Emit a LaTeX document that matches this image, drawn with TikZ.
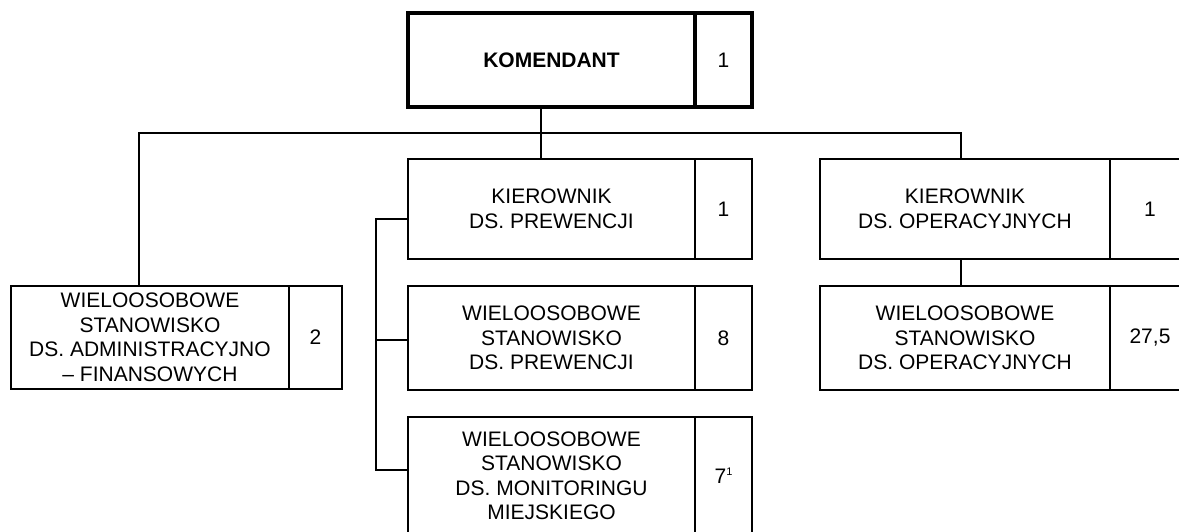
\documentclass[tikz,border=0pt]{standalone}
\usepackage{fontspec}
\setmainfont{Liberation Sans}
\usetikzlibrary{positioning}
\tikzset{
  post/.style={draw, line width=1.8pt, rectangle, align=center, inner sep=0pt, outer sep=0pt,
    anchor=north west, font=\fontsize{21}{24.5}\selectfont},
  count/.style={post, anchor=west, right=0pt of #1},
  chief/.style={line width=3.5pt},
  link/.style={line width=1.8pt}
}
\newcommand{\notemark}[1]{\raisebox{8pt}{\fontsize{11}{11}\selectfont #1}}
\begin{document}
\begin{tikzpicture}[x=1pt, y=-1pt]
      \useasboundingbox (0,0) rectangle (1179,532);
      \clip (0,0) rectangle (1179,532);
      \node[post, chief, minimum width=287pt, minimum height=94pt] (kom) at (408,13) {\textbf{KOMENDANT}};
      \node[count=kom, chief, minimum width=57pt, minimum height=94pt] (komn) {1};
      \node[post, minimum width=278pt, minimum height=103pt] (afin) at (11,286)
        {WIELOOSOBOWE\\STANOWISKO\\DS. ADMINISTRACYJNO\\– FINANSOWYCH};
      \node[count=afin, minimum width=53pt, minimum height=103pt] (afinn) {2};
      \node[post, minimum width=287pt, minimum height=100pt] (kp) at (408,159)
        {KIEROWNIK\\DS. PREWENCJI};
      \node[count=kp, minimum width=57pt, minimum height=100pt] (kpn) {1};
      \node[post, minimum width=287pt, minimum height=104pt] (wp) at (408,286)
        {WIELOOSOBOWE\\STANOWISKO\\DS. PREWENCJI};
      \node[count=wp, minimum width=57pt, minimum height=104pt] (wpn) {8};
      \node[post, minimum width=287pt, minimum height=118pt] (wm) at (408,417)
        {WIELOOSOBOWE\\STANOWISKO\\DS. MONITORINGU\\MIEJSKIEGO};
      \node[count=wm, minimum width=57pt, minimum height=118pt] (wmn) {7\notemark{1}};
      \node[post, minimum width=290pt, minimum height=100pt] (kop) at (820,159)
        {KIEROWNIK\\DS. OPERACYJNYCH};
      \node[count=kop, minimum width=80pt, minimum height=100pt] (kopn) {1};
      \node[post, minimum width=290pt, minimum height=104pt] (wop) at (820,286)
        {WIELOOSOBOWE\\STANOWISKO\\DS. OPERACYJNYCH};
      \node[count=wop, minimum width=80pt, minimum height=104pt] (wopn) {27,5};
      \coordinate (busL) at (139,133);
      \coordinate (busM) at (541,133);
      \coordinate (busR) at (961,133);
      \coordinate (sideA) at (376,219);
      \coordinate (sideB) at (376,340);
      \coordinate (sideC) at (376,470);
      \begin{scope}[link]
        \draw (kom.south -| busM) to (busM);
        \draw (busL |- afin.north) -- (busL) -- (busR) -- (busR |- kop.north);
        \draw (busM) to (busM |- kp.north);
        \draw (kop.south -| busR) to (wop.north -| busR);
        \draw (kp.west |- sideA) -- (sideA) -- (sideC) -- (wm.west |- sideC);
        \draw (sideB) to (wp.west |- sideB);
      \end{scope}
    \end{tikzpicture}
\end{document}
